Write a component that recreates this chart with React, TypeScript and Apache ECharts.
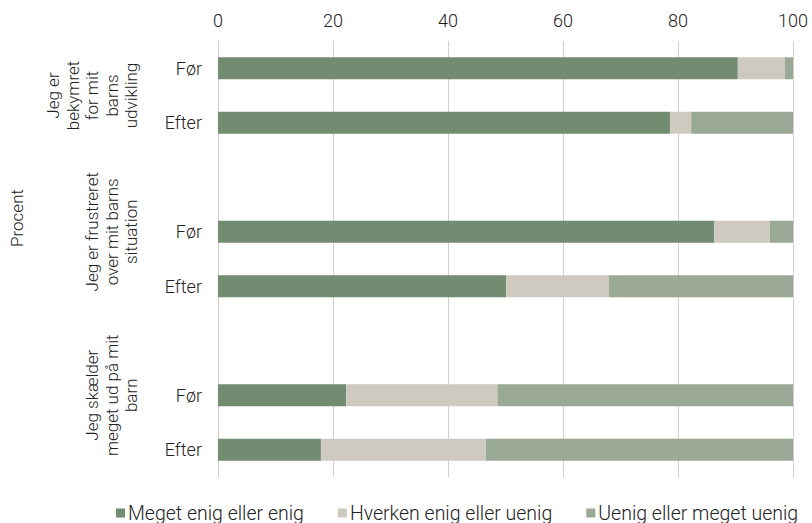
import React, { useEffect, useRef } from "react";
import * as echarts from "echarts";

const groupLabels = [
  "Jeg er\nbekymret\nfor mit\nbarns\nudvikling",
  "Jeg er frustreret\nover mit barns\nsituation",
  "Jeg skælder\nmeget ud på mit\nbarn",
];
const slotLabels = ["Før", "Efter", "", "Før", "Efter", "", "Før", "Efter"];
// which group each slot belongs to
const slotGroup = [0, 0, 1, 1, 1, 2, 2, 2];
// index into value arrays (-1 = spacer)
const slotRow = [0, 1, -1, 2, 3, -1, 4, 5];

const seriesNames = ["Meget enig eller enig", "Hverken enig eller uenig", "Uenig eller meget uenig"];
const enig = [90.4, 78.6, 86.3, 50.1, 22.3, 17.9];
const hverken = [8.2, 3.7, 9.7, 17.9, 26.3, 28.7];
const uenig = [1.4, 17.7, 4.0, 32.0, 51.4, 53.4];
const xTicks = [0, 20, 40, 60, 80, 100];
const colors = ["#728b71", "#cecabf", "#9aa995"];

const FONT = "Roboto";

export default function App() {
  const ref = useRef<HTMLDivElement>(null);
  useEffect(() => {
    if (!ref.current) return;
    const chart = echarts.init(ref.current, null, { renderer: "svg" });
    const cats = slotLabels.map((l, i) => `${l}|${i}`);
    const valueSets = [enig, hverken, uenig];
    const series = seriesNames.map((name, si) => ({
      name,
      type: "bar",
      stack: "all",
      barWidth: 22,
      itemStyle: { color: colors[si] },
      data: slotRow.map((r) => (r < 0 ? "-" : valueSets[si][r])),
    }));
    chart.setOption({
      animation: false,
      textStyle: { fontFamily: FONT },
      grid: { left: 218, right: 19, top: 41, bottom: 46 },
      xAxis: {
        type: "value",
        position: "top",
        min: xTicks[0],
        max: xTicks[xTicks.length - 1],
        interval: 20,
        axisLine: { show: false },
        axisTick: { show: false },
        axisLabel: { fontSize: 18, color: "#222", margin: 12, fontFamily: FONT, fontWeight: 300 },
        splitLine: { lineStyle: { color: "#d0d0d0", width: 1 } },
      },
      yAxis: {
        type: "category",
        inverse: true,
        data: cats,
        axisLine: { show: true, lineStyle: { color: "#d0d0d0" } },
        axisTick: { show: false },
        axisLabel: {
          fontSize: 18,
          color: "#222",
          margin: 16,
          fontFamily: FONT,
          fontWeight: 300,
          formatter: (v: string) => v.split("|")[0],
        },
      },
      legend: {
        top: 503,
        left: 116,
        padding: 0,
        itemWidth: 9,
        itemHeight: 9,
        itemGap: 34,
        icon: "rect",
        textStyle: { fontSize: 19.5, color: "#222", fontFamily: FONT, fontWeight: 300, padding: [0, 0, 0, -2] },
        data: seriesNames,
      },
      series,
    });

    const graphic: any[] = [];
    groupLabels.forEach((text, g) => {
      const idx = slotGroup.map((s, i) => (s === g ? i : -1)).filter((i) => i >= 0);
      const y0 = chart.convertToPixel({ yAxisIndex: 0 }, cats[idx[0]]) as number;
      const y1 = chart.convertToPixel({ yAxisIndex: 0 }, cats[idx[idx.length - 1]]) as number;
      graphic.push({
        type: "text",
        x: 141,
        y: (y0 + y1) / 2,
        rotation: Math.PI / 2,
        style: {
          text,
          fontSize: 17,
          lineHeight: 19.5,
          fontFamily: FONT,
          fontWeight: 300,
          fill: "#222",
          align: "center",
          verticalAlign: "bottom",
        },
      });
    });
    graphic.push({
      type: "text",
      x: 8,
      y: 218,
      rotation: Math.PI / 2,
      style: {
        text: "Procent",
        fontSize: 17,
        fontFamily: FONT,
        fontWeight: 300,
        fill: "#222",
        align: "center",
        verticalAlign: "top",
      },
    });
    chart.setOption({ graphic });

    return () => chart.dispose();
  }, []);
  return <div ref={ref} style={{ width: 812, height: 523, position: "absolute", left: 0, top: 0 }} />;
}
